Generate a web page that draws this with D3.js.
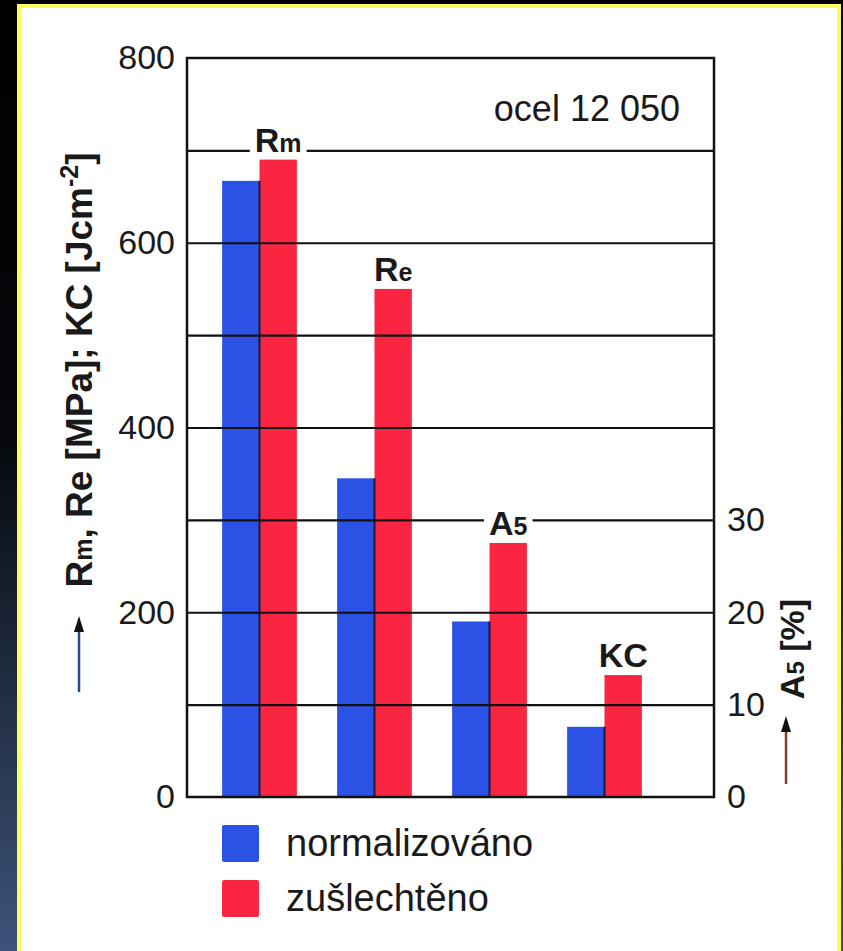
<!DOCTYPE html>
<html>
<head>
<meta charset="utf-8">
<script src="https://cdn.jsdelivr.net/npm/d3@7"></script>
<style>
  html, body { margin: 0; padding: 0; background: #000; overflow: hidden; }
  svg { display: block; font-family: "Liberation Sans", Arial, sans-serif; }
</style>
</head>
<body>
<div id="chart"></div>
<script>
// data (ocel 12 050)
const categories = ["Rm", "Re", "A5", "KC"];
const labelMain = ["R", "R", "A", "KC"];
const labelSub = ["m", "e", "5", ""];
const axisOf = ["left", "left", "right", "left"];   // A5 is in % on the right axis
const seriesNames = ["normalizováno", "zušlechtěno"];
const normalizovano = [667, 345, 19, 76];
const zuslechteno = [690, 550, 27.5, 132];
const leftTicks = [0, 200, 400, 600, 800];
const gridTicks = [100, 200, 300, 400, 500, 600, 700];
const rightTicks = [0, 10, 20, 30];
const colors = ["#2b52e4", "#fa2541"];

const width = 843, height = 951;
const margin = { top: 58, right: 129, bottom: 154, left: 187 };

let svg = d3.select("#chart")
    .append("svg")
    .attr("width", width)
    .attr("height", height);

// background: dark gradient + yellow framed white card
let defs = svg.append("defs");
let grad = defs.append("linearGradient")
    .attr("id", "bg").attr("x1", 0).attr("y1", 0).attr("x2", 0).attr("y2", 1);
grad.append("stop").attr("offset", "0%").attr("stop-color", "#000");
grad.append("stop").attr("offset", "45%").attr("stop-color", "#05070b");
grad.append("stop").attr("offset", "100%").attr("stop-color", "#3d5379");

svg.append("rect").attr("width", width).attr("height", height).attr("fill", "url(#bg)");
svg.append("rect").attr("x", 17).attr("y", 4).attr("width", 824).attr("height", 960).attr("fill", "#fffb5c");
svg.append("rect").attr("x", 21).attr("y", 8).attr("width", 816).attr("height", 960).attr("fill", "#fff");

let y = d3.scaleLinear()
    .domain([0, 800])
    .range([height - margin.bottom, margin.top]);

let yRight = d3.scaleLinear()
    .domain([0, 80])
    .range([height - margin.bottom, margin.top]);

let x = d3.scaleBand()
    .domain(categories)
    .range([202, 662])
    .paddingInner(0.35)
    .paddingOuter(0.175);

let xSub = d3.scaleBand()
    .domain(seriesNames)
    .range([0, x.bandwidth()]);

let rows = categories.map((c, i) => ({
    cat: c,
    i: i,
    scale: axisOf[i] === "right" ? yRight : y,
    values: [normalizovano[i], zuslechteno[i]]
}));

// bars
let groups = svg.append("g")
    .selectAll("g")
    .data(rows)
    .join("g")
    .attr("transform", d => `translate(${x(d.cat)},0)`);

groups.selectAll("rect")
    .data(d => d.values.map((v, k) => ({ v: v, k: k, scale: d.scale })))
    .join("rect")
    .attr("x", d => xSub(seriesNames[d.k]))
    .attr("y", d => d.scale(d.v))
    .attr("width", xSub.bandwidth())
    .attr("height", d => d.scale(0) - d.scale(d.v))
    .attr("fill", d => colors[d.k]);

// dark edge on the right of the blue bars
groups.append("line")
    .attr("x1", xSub.bandwidth())
    .attr("x2", xSub.bandwidth())
    .attr("y1", d => d.scale(d.values[0]))
    .attr("y2", d => d.scale(0))
    .attr("stroke", "#1a1a40")
    .attr("stroke-width", 2);

// grid lines over the bars
svg.append("g")
    .attr("transform", `translate(${margin.left},0)`)
    .call(d3.axisLeft(y).tickValues(gridTicks).tickSize(-(width - margin.left - margin.right)).tickFormat(""))
    .call(g => g.select(".domain").remove())
    .call(g => g.selectAll("line").attr("stroke", "#111").attr("stroke-width", 2.2));

// frame
svg.append("rect")
    .attr("x", margin.left)
    .attr("y", margin.top)
    .attr("width", width - margin.left - margin.right)
    .attr("height", height - margin.top - margin.bottom)
    .attr("fill", "none")
    .attr("stroke", "#111")
    .attr("stroke-width", 2.5);

// left axis
svg.append("g")
    .attr("transform", `translate(${margin.left},0)`)
    .call(d3.axisLeft(y).tickValues(leftTicks).tickSize(0).tickPadding(12))
    .call(g => g.select(".domain").remove())
    .call(g => g.selectAll("text")
        .attr("font-family", "Liberation Sans, Arial, sans-serif")
        .attr("font-size", 34)
        .attr("fill", "#1a1a1a"));

// right axis
svg.append("g")
    .attr("transform", `translate(${width - margin.right},0)`)
    .call(d3.axisRight(yRight).tickValues(rightTicks).tickSize(0).tickPadding(13))
    .call(g => g.select(".domain").remove())
    .call(g => g.selectAll("text")
        .attr("font-family", "Liberation Sans, Arial, sans-serif")
        .attr("font-size", 34)
        .attr("fill", "#1a1a1a"));

// bar labels with white backing (gaps in grid lines)
let labels = svg.append("g")
    .selectAll("g")
    .data(rows)
    .join("g");

let labelText = labels.append("text")
    .attr("x", d => x(d.cat) + xSub(seriesNames[1]) + xSub.bandwidth() / 2)
    .attr("y", d => d.scale(d.values[1]) - 8)
    .attr("text-anchor", "middle")
    .attr("font-weight", "bold")
    .attr("font-size", 34)
    .attr("fill", "#1a1a1a");
labelText.append("tspan").text(d => labelMain[d.i]);
labelText.append("tspan")
    .attr("font-size", 25)
    .text(d => labelSub[d.i]);

labels.each(function () {
    let t = d3.select(this).select("text");
    let b = t.node().getBBox();
    d3.select(this).insert("rect", "text")
        .attr("x", b.x - 5)
        .attr("y", b.y + 5)
        .attr("width", b.width + 10)
        .attr("height", b.height - 6)
        .attr("fill", "#fff");
});

// "ocel 12 050"
svg.append("text")
    .attr("x", 680)
    .attr("y", 121)
    .attr("text-anchor", "end")
    .attr("font-size", 36)
    .attr("fill", "#1a1a1a")
    .text("ocel 12 050");

// left axis title
let leftTitle = svg.append("text")
    .attr("transform", "translate(92,370) rotate(-90)")
    .attr("text-anchor", "middle")
    .attr("font-weight", "bold")
    .attr("font-size", 37)
    .attr("fill", "#1a1a1a");
leftTitle.append("tspan").text("R");
leftTitle.append("tspan").attr("font-size", 25).text("m");
leftTitle.append("tspan").text(", Re [MPa];  KC [Jcm");
leftTitle.append("tspan").attr("font-size", 25).attr("dy", -14).text("-2");
leftTitle.append("tspan").attr("dy", 14).text("]");

// up arrows next to the axis titles
function upArrow(cx, yBottom, yTop, shaft) {
    svg.append("line")
        .attr("x1", cx).attr("x2", cx)
        .attr("y1", yBottom).attr("y2", yTop + 10)
        .attr("stroke", shaft)
        .attr("stroke-width", 2.5);
    svg.append("path")
        .attr("d", `M${cx},${yTop}L${cx - 5},${yTop + 16}L${cx + 5},${yTop + 16}Z`)
        .attr("fill", "#111");
}
upArrow(79, 692, 616, "#2a4a8a");

// right axis title
let rightTitle = svg.append("text")
    .attr("transform", "translate(804,649) rotate(-90)")
    .attr("text-anchor", "middle")
    .attr("font-weight", "bold")
    .attr("font-size", 34)
    .attr("fill", "#1a1a1a");
rightTitle.append("tspan").text("A");
rightTitle.append("tspan").attr("font-size", 24).text("5");
rightTitle.append("tspan").text(" [%]");

upArrow(786, 784, 716, "#8a3a2a");

// legend
let legend = svg.append("g")
    .selectAll("g")
    .data(seriesNames)
    .join("g")
    .attr("transform", (d, i) => `translate(222,${825 + i * 55})`);

legend.append("rect")
    .attr("width", 37)
    .attr("height", 37)
    .attr("rx", 2)
    .attr("fill", (d, i) => colors[i]);

legend.append("text")
    .attr("x", 64)
    .attr("y", 31)
    .attr("font-size", 38)
    .attr("fill", "#1a1a1a")
    .text(d => d);
</script>
</body>
</html>
